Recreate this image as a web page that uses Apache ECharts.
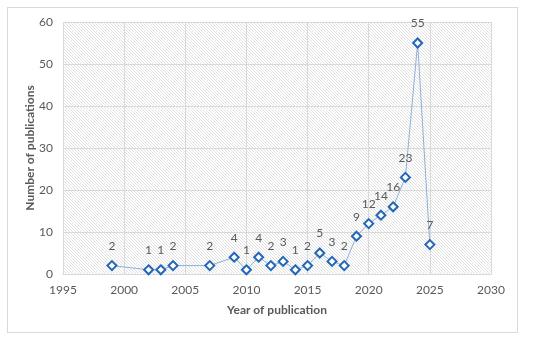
<!DOCTYPE html>
<html><head><meta charset="utf-8">
<script src="https://cdn.jsdelivr.net/npm/echarts@6/dist/echarts.min.js"></script>
<style>html,body{margin:0;padding:0;background:#fff}#c{width:550px;height:338px}
#frame{position:absolute;left:7px;top:7px;width:511px;height:326px;border:1px solid #d9d9d9;box-sizing:border-box;pointer-events:none}</style>
</head><body><div id="c"></div><div id="frame"></div>
<script>
const years = [1999, 2002, 2003, 2004, 2007, 2009, 2010, 2011, 2012, 2013, 2014, 2015, 2016, 2017, 2018, 2019, 2020, 2021, 2022, 2023, 2024, 2025];
const counts = [2, 1, 1, 2, 2, 4, 1, 4, 2, 3, 1, 2, 5, 3, 2, 9, 12, 14, 16, 23, 55, 7];
const xTitle = 'Year of publication';
const yTitle = 'Number of publications';

const pc = document.createElement('canvas');
pc.width = 3; pc.height = 3;
const g = pc.getContext('2d');
g.fillStyle = '#ffffff'; g.fillRect(0,0,3,3);
g.fillStyle = '#e2e2e2';
g.fillRect(0,0,1,1); g.fillRect(1,1,1,1); g.fillRect(2,2,1,1);

const font = 'Lato, "Open Sans", sans-serif';
const chart = echarts.init(document.getElementById('c'), null, {renderer:'canvas'});
chart.setOption({
  animation:false,
  backgroundColor:'#ffffff',
  grid:{left:63, right:59, top:22, bottom:64, show:true, borderWidth:0, backgroundColor:{image:pc, repeat:'repeat'}},
  xAxis:{type:'value', min:1995, max:2030, interval:5,
    name:xTitle, nameLocation:'middle', nameGap:30, nameMoveOverlap:false,
    nameTextStyle:{color:'#595959', fontWeight:'bold', fontSize:12, fontFamily:font},
    axisLine:{show:true, lineStyle:{color:'#d9d9d9'}}, axisTick:{show:false},
    axisLabel:{color:'#595959', fontSize:12, fontFamily:font, margin:10, formatter:v=>String(v)},
    splitLine:{show:true, lineStyle:{color:'#d9d9d9'}}},
  yAxis:{type:'value', min:0, max:60, interval:10,
    name:yTitle, nameLocation:'middle', nameGap:27, nameMoveOverlap:false,
    nameTextStyle:{color:'#595959', fontWeight:'bold', fontSize:12, fontFamily:font},
    axisLine:{show:false}, axisTick:{show:false},
    axisLabel:{color:'#595959', fontSize:12, fontFamily:font, margin:10},
    splitLine:{show:true, lineStyle:{color:'#d9d9d9'}}},
  series:[{type:'line', data:years.map((y,i)=>[y, counts[i]]),
    symbol:'diamond', symbolSize:9, showAllSymbol:true,
    lineStyle:{color:'#8eb0da', width:1},
    itemStyle:{color:'#ffffff', borderColor:'#2266b8', borderWidth:2},
    label:{show:true, position:'top', distance:8, color:'#595959', fontSize:12, fontFamily:font}}]
});
</script></body></html>
